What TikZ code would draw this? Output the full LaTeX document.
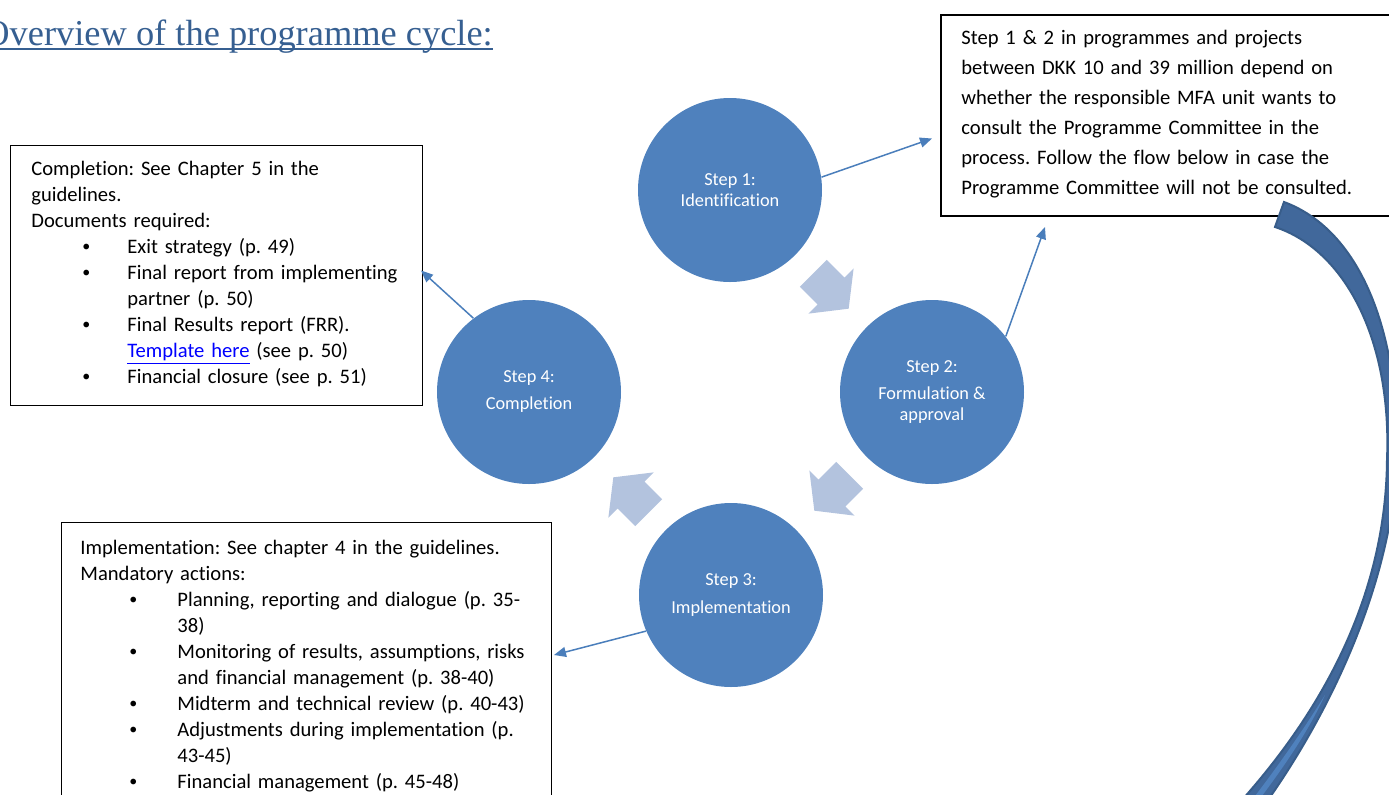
\documentclass[tikz,border=0pt]{standalone}
\usepackage{fontspec}
\setmainfont{Carlito}[Ligatures=NoCommon]
\newfontfamily\titlefont{Liberation Serif}
\usepackage{xcolor}
\usetikzlibrary{arrows.meta,calc}
\definecolor{stepblue}{HTML}{4F81BD}
\definecolor{paleblue}{HTML}{B3C3DE}
\definecolor{lineblue}{HTML}{4A7EBB}
\definecolor{bandblue}{HTML}{41689B}
\definecolor{bandedge}{HTML}{385D8A}
\definecolor{titleblue}{HTML}{365F91}
\definecolor{linkblue}{HTML}{0000FF}
\frenchspacing
\newcommand{\smallbul}{\raisebox{0.8pt}{\fontsize{8}{8}\selectfont•}}
\newcommand{\complbul}{\hspace*{25.5pt}\makebox[22.5pt][l]{\smallbul}}
\newcommand{\implbul}{\hspace*{24.5pt}\makebox[24pt][l]{\smallbul}}
\tikzset{cyclearrow/.pic={
  \fill[paleblue] (-25,-19) -- (0,-19) -- (0,-32) -- (25,0) -- (0,32) -- (0,19) -- (-25,19) -- cycle;}}

\begin{document}
\begin{tikzpicture}[x=0.5pt,y=-0.5pt,
  stepcircle/.style={circle, fill=stepblue, minimum size=92pt, inner sep=0pt, text=white, align=center, font=\fontsize{9.15}{10.5}\selectfont},
  infobox/.style={draw=black, line width=0.5pt, inner sep=0pt, anchor=north west},
  boxtext/.style={anchor=base west, inner sep=0pt, align=left, font=\fontsize{10.3}{13}\selectfont},
  flowarrow/.style={draw=lineblue, line width=0.75pt, -{Triangle[length=6pt,width=5pt]}}]
   \useasboundingbox (0,0) rectangle (1389,794);
   \clip (0,0) rectangle (1389,794);
   % title
   \node[anchor=base west, inner sep=0pt, text=titleblue, font=\titlefont\fontsize{18.2}{20}\selectfont] (title) at (-17,45) {Overview of the programme cycle:};
   \draw[titleblue, line width=1pt] ($(title.base west)+(0,4)$) -- ($(title.base east)+(0,4)$);
   % the four steps
   \node[stepcircle] (step1) at (730,190) {Step 1:\\Identification};
   \node[stepcircle] (step2) at (932,392) {Step 2:\\[3pt]Formulation \&\\approval};
   \node[stepcircle] (step3) at (731,595) {Step 3:\\[3.5pt]Implementation};
   \node[stepcircle] (step4) at (529,392) {Step 4:\\[3pt]Completion};
   \pic[rotate=-45] at (831,291) {cyclearrow};
   \pic[rotate=-135] at (832,493) {cyclearrow};
   \pic[rotate=135] at (631,495) {cyclearrow};
   % boxes
   \node[infobox, line width=1pt, minimum width=230pt, minimum height=100.5pt] (note) at (940,14) {};
   \node[infobox, minimum width=206pt, minimum height=130pt] (compl) at (10,145) {};
   \node[infobox, minimum width=245pt, minimum height=144pt] (impl) at (61,522) {};
   \node[boxtext, text width=215pt, font=\fontsize{10.3}{15}\selectfont] (notetext) at ($(note.north west)+(21,30)$) {Step 1 \& 2 in programmes and projects\\between DKK 10 and 39 million depend on\\whether the responsible MFA unit wants to\\consult the Programme Committee in the\\process. Follow the flow below in case the\\Programme Committee will not be consulted.};
   \node[boxtext, text width=200pt] (compltext) at ($(compl.north west)+(21,30)$) {Completion: See Chapter 5 in the\\guidelines.\\Documents required:\\\complbul Exit strategy (p. 49)\\\complbul Final report from implementing\\\hspace*{48pt}partner (p. 50)\\\complbul Final Results report (FRR).\\\hspace*{48pt}\textcolor{linkblue}{\underline{Template here}} (see p. 50)\\\complbul Financial closure (see p. 51)};
   \node[boxtext, text width=240pt] (impltext) at ($(impl.north west)+(19,32)$) {Implementation: See chapter 4 in the guidelines.\\Mandatory actions:\\\implbul Planning, reporting and dialogue (p. 35-\\\hspace*{48.5pt}38)\\\implbul Monitoring of results, assumptions, risks\\\hspace*{48.5pt}and financial management (p. 38-40)\\\implbul Midterm and technical review (p. 40-43)\\\implbul Adjustments during implementation (p.\\\hspace*{48.5pt}43-45)\\\implbul Financial management (p. 45-48)};
   % connectors
   \draw[flowarrow] (step1.8) -- ($(note.west)+(-8,23)$);
   \draw[flowarrow] (step2.37) -- ($(note.south west)+(105,10)$);
   \draw[flowarrow] (step4.127) -- ($(compl.east)+(-2,-5)$);
   \draw[flowarrow] (step3.203) -- ($(impl.north east)+(2,133)$);
   % curved arrow on the right
   \filldraw[fill=bandblue, draw=bandedge, line width=1pt] (1284,202) .. controls (1360,230) and (1398,330) .. (1397,450) .. controls (1396,560) and (1345,690) .. (1268,800) -- (1242,800) .. controls (1340,690) and (1386,575) .. (1387,460) .. controls (1392,340) and (1345,250) .. (1275,227) -- cycle;
   \fill[stepblue] (1325,695) .. controls (1300,735) and (1275,770) .. (1252,800) -- (1259,800) .. controls (1285,765) and (1308,732) .. (1325,695) -- cycle;
\end{tikzpicture}
\end{document}
